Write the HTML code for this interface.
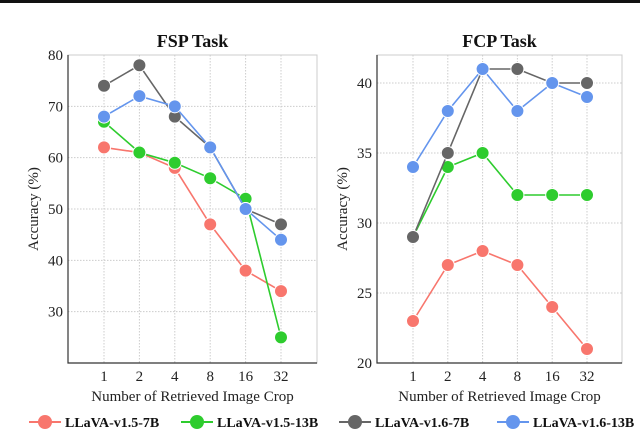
<!DOCTYPE html>
<html><head><meta charset="utf-8"><style>
body{margin:0;background:#fff;font-family:"Liberation Serif",serif}
</style></head><body>
<svg id="c" width="640" height="437" xmlns="http://www.w3.org/2000/svg" font-family="Liberation Serif, serif"></svg>
<script>
const categories=["1","2","4","8","16","32"];
const seriesNames=["LLaVA-v1.5-7B","LLaVA-v1.5-13B","LLaVA-v1.6-7B","LLaVA-v1.6-13B"];
const colors=["#f8766d","#2ecc2e","#666666","#6495ed"];
const fsp7=[62,61,58,47,38,34];
const fsp13=[67,61,59,56,52,25];
const fsp67=[74,78,68,62,50,47];
const fsp613=[68,72,70,62,50,44];
const fcp7=[23,27,28,27,24,21];
const fcp13=[29,34,35,32,32,32];
const fcp67=[29,35,41,41,40,40];
const fcp613=[34,38,41,38,40,39];
const fspTicks=[30,40,50,60,70,80];
const fcpTicks=[20,25,30,35,40];
const svg=document.getElementById('c');
const NS="http://www.w3.org/2000/svg";
function mk(t,a,txt){const e=document.createElementNS(NS,t);for(const k in a)e.setAttribute(k,a[k]);if(txt!=null)e.textContent=txt;svg.appendChild(e);return e;}
const top0=mk('rect',{x:0,y:0,width:640,height:3,fill:'#111'});


function panel(name,title,L,R,T,B,ymin,ymax,ticks,series,x0,dx){
  const y=v=>B-(v-ymin)/(ymax-ymin)*(B-T);
  const x=i=>x0+i*dx;
  const box=mk('rect',{x:L,y:T,width:R-L,height:B-T,fill:'#fff',stroke:'#ccc','stroke-width':1});
  
  
  ticks.forEach(t=>{
    const g=mk('line',{x1:L,x2:R,y1:y(t),y2:y(t),stroke:'#ccc','stroke-dasharray':'1.5,1.5'});
    
    
    const tl=mk('text',{x:L-5,y:y(t)+5,'text-anchor':'end','font-size':15,fill:'#222'},t);
    
    
  });
  categories.forEach((c,i)=>{
    const g=mk('line',{x1:x(i),x2:x(i),y1:T,y2:B,stroke:'#ccc','stroke-dasharray':'1.5,1.5'});
    
    
    const tl=mk('text',{x:x(i),y:B+18,'text-anchor':'middle','font-size':15,fill:'#222'},c);
    
    
  });
  const ax=mk('polyline',{points:`${L},${T} ${L},${B} ${R},${B}`,fill:'none',stroke:'#333','stroke-width':1.2});
  
  
  const tt=mk('text',{x:(L+R)/2,y:T-8,'text-anchor':'middle','font-size':18,'font-weight':'bold',fill:'#111'},title);
  
  
  const xt=mk('text',{x:(L+R)/2,y:B+38,'text-anchor':'middle','font-size':15,fill:'#222'},'Number of Retrieved Image Crop');
  
  
  const cy=(T+B)/2;
  const yt=mk('text',{x:L-30,y:cy,'text-anchor':'middle','font-size':15,fill:'#222',transform:`rotate(-90 ${L-30} ${cy})`},'Accuracy (%)');
  
  
  series.forEach((s,k)=>{
    const pl=mk('polyline',{points:s.map((v,i)=>x(i)+','+y(v)).join(' '),fill:'none',stroke:colors[k],'stroke-width':1.6});
    
    
    s.forEach((v,i)=>{
      const p=mk('circle',{cx:x(i),cy:y(v),r:6.5,fill:colors[k],stroke:'#fff','stroke-width':1});
      
      
    });
  });
}
panel('fsp','FSP Task',68,317,55,363,20,80,fspTicks,[fsp7,fsp13,fsp67,fsp613],104,35.4);
panel('fcp','FCP Task',377,622,55,363,20,42,fcpTicks,[fcp7,fcp13,fcp67,fcp613],413,34.8);
const lx=[45,197,355,513];
seriesNames.forEach((n,k)=>{
  const l=mk('line',{x1:lx[k]-16,x2:lx[k]+16,y1:422,y2:422,stroke:colors[k],'stroke-width':2});
  
  
  const c=mk('circle',{cx:lx[k],cy:422,r:7,fill:colors[k]});
  
  
  const t=mk('text',{x:lx[k]+20,y:427,'font-size':14,'font-weight':'bold',fill:'#111'},n);
  
  
});
</script>
</body></html>
